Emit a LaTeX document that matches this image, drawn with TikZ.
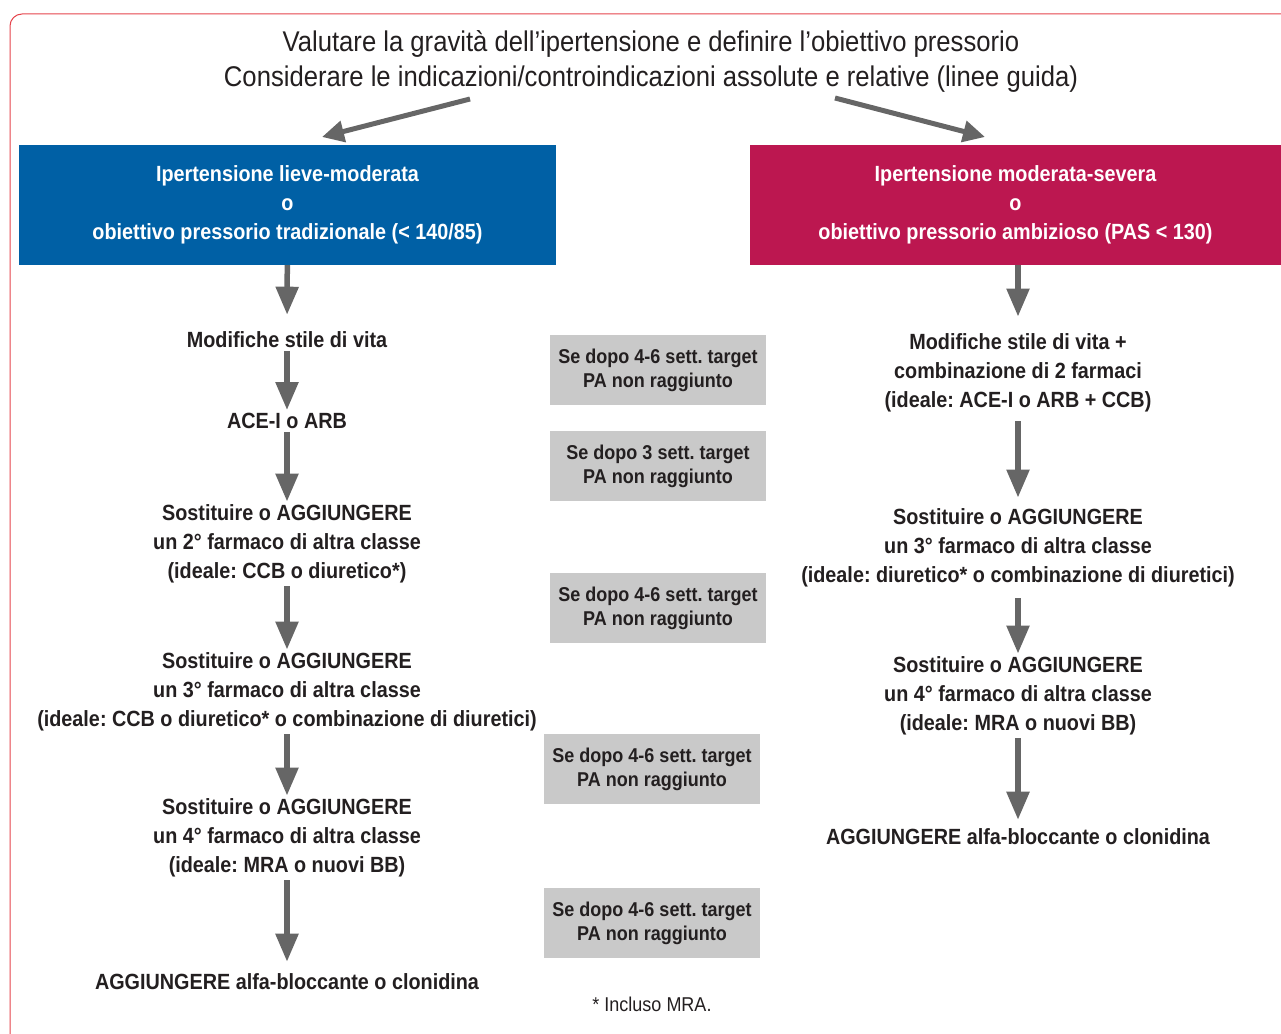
\documentclass[tikz,border=0pt]{standalone}
\usepackage{fontspec}
\setmainfont{Liberation Sans}[FakeStretch=0.9]
\usetikzlibrary{arrows.meta, positioning}
\usepackage{xcolor}
\frenchspacing

\definecolor{mildblue}{HTML}{0060A5}
\definecolor{severered}{HTML}{BC1750}
\definecolor{framered}{HTML}{E5444C}
\definecolor{arrowgrey}{HTML}{666666}
\definecolor{boxgrey}{HTML}{C9C9C9}
\definecolor{inkdark}{HTML}{231F20}

\begin{document}
\begin{tikzpicture}[x=1pt, y=-1pt,
    header/.style={minimum height=120pt, align=center, text=white, font=\fontsize{22}{29}\selectfont\bfseries, inner sep=0pt},
    stepnode/.style={align=center, text=inkdark, font=\fontsize{22}{29}\selectfont\bfseries, inner sep=3pt},
    waitbox/.style={fill=boxgrey, minimum width=216pt, minimum height=70pt, align=center, font=\fontsize{20}{24}\selectfont\bfseries, text=inkdark},
    flow/.style={-{Triangle[width=22pt, length=28pt]}, line width=5.5pt, draw=arrowgrey},
    split/.style={-{Triangle[width=21pt, length=22pt]}, line width=5pt, draw=arrowgrey}
]
\def\xLeft{287}
\def\xRight{1018}

\useasboundingbox (0,0) rectangle (1281,1033);

% Frame, open to the right and to the bottom
\draw[framered, line width=1pt, rounded corners=12pt] (10,1060) -- (10,14) -- (1300,14);

% Title
\node[align=center, text=inkdark, font=\fontsize{28.5}{35}\selectfont] (title) at (651,61)
    {Valutare la gravità dell’ipertensione e definire l’obiettivo pressorio\\
     Considerare le indicazioni/controindicazioni assolute e relative (linee guida)};

\coordinate (splitL) at (470,99);
\coordinate (tipL)   at (322,137);
\coordinate (splitR) at (835,98);
\coordinate (tipR)   at (985,137);
\draw[split] (splitL) -- (tipL);
\draw[split] (splitR) -- (tipR);

% Headers
\node[header, fill=mildblue, minimum width=537pt] (low) at (287.5,205)
    {Ipertensione lieve-moderata\\o\\obiettivo pressorio tradizionale (< 140/85)};
\node[header, fill=severered, minimum width=531pt] (high) at (1015.5,205)
    {Ipertensione moderata-severa\\o\\obiettivo pressorio ambizioso (PAS < 130)};

% --- Left column ---
\node[stepnode] (l1) at (\xLeft,340) {Modifiche stile di vita};
\node[stepnode] (l2) at (\xLeft,421) {ACE-I o ARB};
\node[stepnode] (l3) at (\xLeft,544) {Sostituire o AGGIUNGERE\\un 2° farmaco di altra classe\\(ideale: CCB o diuretico*)};
\node[stepnode] (l4) at (\xLeft,692) {Sostituire o AGGIUNGERE\\un 3° farmaco di altra classe\\(ideale: CCB o diuretico* o combinazione di diuretici)};
\node[stepnode] (l5) at (\xLeft,838) {Sostituire o AGGIUNGERE\\un 4° farmaco di altra classe\\(ideale: MRA o nuovi BB)};
\node[stepnode] (l6) at (\xLeft,982) {AGGIUNGERE alfa-bloccante o clonidina};

\draw[flow, shorten >=14pt] (low) -- (l1);
\draw[flow] (l1) -- (l2);
\draw[flow] (l2) -- (l3);
\draw[flow] (l3) -- (l4);
\draw[flow] (l4) -- (l5);
\draw[flow, shorten >=9pt] (l5) -- (l6);

% --- Waiting times ---
\node[waitbox] (w1) at (658,370) {Se dopo 4-6 sett. target\\PA non raggiunto};
\node[waitbox] (w2) at (658,466) {Se dopo 3 sett. target\\PA non raggiunto};
\node[waitbox] (w3) at (658,608) {Se dopo 4-6 sett. target\\PA non raggiunto};
\node[waitbox] (w4) at (652,769) {Se dopo 4-6 sett. target\\PA non raggiunto};
\node[waitbox] (w5) at (652,923) {Se dopo 4-6 sett. target\\PA non raggiunto};

\node[text=inkdark, font=\fontsize{20}{24}\selectfont] (note) at (652,1004) {* Incluso MRA.};

% --- Right column ---
\node[stepnode] (r1) at (\xRight,373) {Modifiche stile di vita +\\combinazione di 2 farmaci\\(ideale: ACE-I o ARB + CCB)};
\node[stepnode] (r2) at (\xRight,548) {Sostituire o AGGIUNGERE\\un 3° farmaco di altra classe\\(ideale: diuretico* o combinazione di diuretici)};
\node[stepnode] (r3) at (\xRight,696) {Sostituire o AGGIUNGERE\\un 4° farmaco di altra classe\\(ideale: MRA o nuovi BB)};
\node[stepnode] (r4) at (\xRight,837) {AGGIUNGERE alfa-bloccante o clonidina};

\draw[flow, shorten >=14pt] (high.south -| r1) -- (r1);
\draw[flow, shorten <=6pt, shorten >=8pt] (r1) -- (r2);
\draw[flow, shorten <=8pt] (r2) -- (r3);
\draw[flow, shorten >=6pt] (r3) -- (r4);

\end{tikzpicture}
\end{document}
